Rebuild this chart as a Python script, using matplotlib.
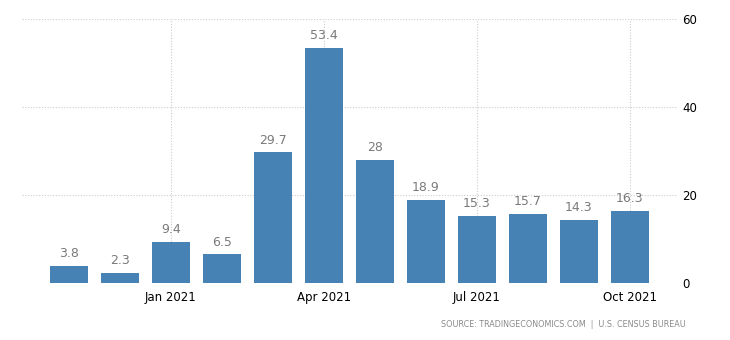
import numpy as np
import matplotlib.pyplot as plt

months = ["Nov 2020", "Dec 2020", "Jan 2021", "Feb 2021", "Mar 2021", "Apr 2021",
          "May 2021", "Jun 2021", "Jul 2021", "Aug 2021", "Sep 2021", "Oct 2021"]
values = [3.8, 2.3, 9.4, 6.5, 29.7, 53.4, 28, 18.9, 15.3, 15.7, 14.3, 16.3]
tick_months = ["Jan 2021", "Apr 2021", "Jul 2021", "Oct 2021"]
y_ticks = [0, 20, 40, 60]

bar_color = "#4682b4"
grid_color = "#cccccc"

fig = plt.figure(figsize=(7.3, 3.4), dpi=100)
ax = fig.add_axes([0.030, 0.168, 0.897, 0.776])

x = np.arange(len(months))
bars = ax.bar(x, values, width=0.74, color=bar_color, zorder=2)

for xi, v in zip(x, values):
    ax.text(xi, v + 1.3, f"{v:g}", ha="center", va="bottom",
            fontsize=9, color="#7a7a7a")

ax.set_xlim(-0.92, 11.92)
ax.set_ylim(0, 60)
ax.set_yticks(y_ticks)
ax.yaxis.tick_right()
ax.set_xticks([months.index(m) for m in tick_months])
ax.set_xticklabels(tick_months)
ax.tick_params(axis="both", length=0, labelsize=8.5, colors="black")
ax.tick_params(axis="y", pad=4)
ax.tick_params(axis="x", pad=6)

ax.grid(True, color=grid_color, linestyle=(0, (1, 1.5)), linewidth=0.8, zorder=0)
for s in ax.spines.values():
    s.set_visible(False)

fig.text(0.94, 0.045, "SOURCE: TRADINGECONOMICS.COM  |  U.S. CENSUS BUREAU",
         ha="right", va="center", fontsize=5.8, color="#8a8a8a")

fig.savefig("out.png", dpi=100)
